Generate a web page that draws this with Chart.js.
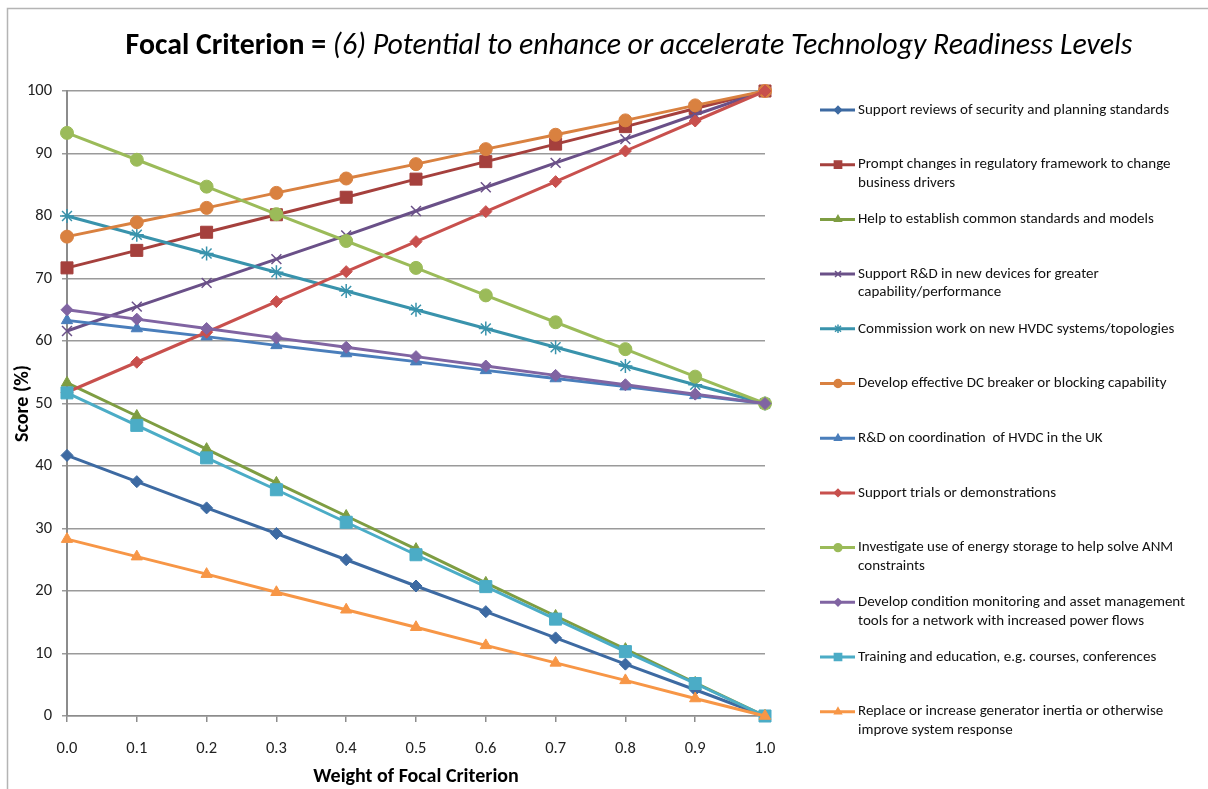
<!DOCTYPE html>
<html>
<head>
<meta charset="utf-8">
<script src="https://cdn.jsdelivr.net/npm/chart.js@4/dist/chart.umd.min.js"></script>
<style>
  html, body { margin: 0; background: #fff; }
  #wrap { width: 1208px; height: 789px; }
</style>
</head>
<body>
<div id="wrap"><canvas id="chart" width="1208" height="789"></canvas></div>
<script>
// DATA
const weights = ['0.0', '0.1', '0.2', '0.3', '0.4', '0.5', '0.6', '0.7', '0.8', '0.9', '1.0'];

const securityReviews   = [41.7, 37.5, 33.3, 29.2, 25.0, 20.8, 16.7, 12.5, 8.3, 4.2, 0];
const regulatoryChanges = [71.7, 74.5, 77.4, 80.2, 83.0, 85.9, 88.7, 91.5, 94.3, 97.2, 100];
const commonStandards   = [53.3, 48.0, 42.7, 37.3, 32.0, 26.7, 21.3, 16.0, 10.7, 5.3, 0];
const newDevices        = [61.6, 65.5, 69.3, 73.1, 76.9, 80.8, 84.6, 88.5, 92.3, 96.2, 100];
const hvdcTopologies    = [80.0, 77.0, 74.0, 71.0, 68.0, 65.0, 62.0, 59.0, 56.0, 53.0, 50];
const dcBreaker         = [76.7, 79.0, 81.3, 83.7, 86.0, 88.3, 90.7, 93.0, 95.3, 97.7, 100];
const hvdcCoordination  = [63.3, 62.0, 60.7, 59.3, 58.0, 56.7, 55.3, 54.0, 52.7, 51.3, 50];
const trialsDemos       = [51.8, 56.6, 61.4, 66.3, 71.1, 75.9, 80.7, 85.5, 90.4, 95.2, 100];
const energyStorage     = [93.3, 89.0, 84.7, 80.3, 76.0, 71.7, 67.3, 63.0, 58.7, 54.3, 50];
const conditionMonitor  = [65.0, 63.5, 62.0, 60.5, 59.0, 57.5, 56.0, 54.5, 53.0, 51.5, 50];
const trainingEdu       = [51.7, 46.5, 41.3, 36.2, 31.0, 25.8, 20.7, 15.5, 10.3, 5.2, 0];
const generatorInertia  = [28.3, 25.5, 22.7, 19.8, 17.0, 14.2, 11.3, 8.5, 5.7, 2.8, 0];

const seriesLabels = [
    ['Support reviews of security and planning standards'],
    ['Prompt changes in regulatory framework to change', 'business drivers'],
    ['Help to establish common standards and models'],
    ['Support R&D in new devices for greater', 'capability/performance'],
    ['Commission work on new HVDC systems/topologies'],
    ['Develop effective DC breaker or blocking capability'],
    ['R&D on coordination  of HVDC in the UK'],
    ['Support trials or demonstrations'],
    ['Investigate use of energy storage to help solve ANM', 'constraints'],
    ['Develop condition monitoring and asset management', 'tools for a network with increased power flows'],
    ['Training and education, e.g. courses, conferences'],
    ['Replace or increase generator inertia or otherwise', 'improve system response']
];
const seriesValues = [securityReviews, regulatoryChanges, commonStandards, newDevices, hvdcTopologies, dcBreaker,
    hvdcCoordination, trialsDemos, energyStorage, conditionMonitor, trainingEdu, generatorInertia];

// styles
const colors = ['#3D6AA2', '#A5403D', '#7E9D42', '#6A5088', '#3993AC', '#D98140',
                '#4A7EBB', '#C8504D', '#9BBB59', '#8064A2', '#4BACC6', '#F79646'];
const markers = ['rectRot', 'rect', 'triangle', 'crossRot', 'star', 'circle',
                 'triangle', 'rectRot', 'circle', 'rectRot', 'rect', 'triangle'];
const markerSize = { rectRot: 6, rect: 8.5, triangle: 6.5, crossRot: 7, star: 7, circle: 6.5 };

const FONT = 'Carlito, Lato, "Open Sans", sans-serif';

const datasets = seriesValues.map((vals, i) => ({
    label: seriesLabels[i].join(' '),
    data: vals,
    borderColor: colors[i],
    backgroundColor: colors[i],
    borderWidth: 3,
    pointStyle: markers[i],
    pointRadius: markerSize[markers[i]],
    pointBorderWidth: (markers[i] === 'crossRot' || markers[i] === 'star') ? 1.5 : 1,
    pointBorderColor: colors[i],
    pointBackgroundColor: colors[i],
    tension: 0,
    clip: false,
    order: seriesValues.length - i
}));

// frame, two-style title and wrapped legend
const decorPlugin = {
    id: 'decor',
    beforeDraw(chart) {
        const ctx = chart.ctx;
        ctx.save();
        ctx.strokeStyle = '#b4b4b4';
        ctx.lineWidth = 1.5;
        ctx.beginPath();
        ctx.moveTo(7.5, 800);
        ctx.lineTo(7.5, 8.5);
        ctx.lineTo(1220, 8.5);
        ctx.stroke();
        ctx.restore();
    },
    afterDraw(chart) {
        const ctx = chart.ctx;
        ctx.save();
        // title
        const boldPart = 'Focal Criterion = ';
        const italicPart = '(6) Potential to enhance or accelerate Technology Readiness Levels';
        const boldFont = 'bold 29.8px ' + FONT;
        const italicFont = 'italic 29.8px ' + FONT;
        ctx.font = boldFont;
        const w1 = ctx.measureText(boldPart).width;
        ctx.font = italicFont;
        const w2 = ctx.measureText(italicPart).width;
        let x = 629 - (w1 + w2) / 2;
        ctx.textBaseline = 'middle';
        ctx.fillStyle = '#000';
        ctx.font = boldFont;
        ctx.fillText(boldPart, x, 47);
        ctx.font = italicFont;
        ctx.fillText(italicPart, x + w1, 47);

        // legend
        ctx.font = '15px ' + FONT;
        chart.data.datasets.forEach((ds, i) => {
            const y = 110 + i * 54.7;
            ctx.strokeStyle = ds.borderColor;
            ctx.lineWidth = 3;
            ctx.beginPath();
            ctx.moveTo(820, y);
            ctx.lineTo(855, y);
            ctx.stroke();
            ctx.fillStyle = ds.borderColor;
            ctx.lineWidth = 1.5;
            Chart.helpers.drawPoint(ctx, {
                pointStyle: ds.pointStyle,
                radius: ds.pointRadius * 0.6,
                rotation: 0,
                borderWidth: 1.5
            }, 838, y);
            ctx.fillStyle = '#111';
            seriesLabels[i].forEach((line, k) => {
                ctx.fillText(line, 858, y + k * 18.5);
            });
        });
        ctx.restore();
    }
};

new Chart(document.getElementById('chart'), {
    type: 'line',
    data: { labels: weights, datasets: datasets },
    plugins: [decorPlugin],
    options: {
        responsive: false,
        animation: false,
        layout: { padding: { top: 91, right: 443, left: 0, bottom: 0 } },
        plugins: {
            legend: { display: false },
            title: { display: false },
            tooltip: { enabled: false }
        },
        scales: {
            x: {
                offset: false,
                grid: { display: true, drawOnChartArea: false, drawTicks: true, tickLength: 6, color: '#8c8c8c', lineWidth: 1.5 },
                border: { color: '#8c8c8c', width: 1.5 },
                ticks: { color: '#222', font: { family: FONT, size: 16.5 }, padding: 17, maxRotation: 0, autoSkip: false },
                title: {
                    display: true, text: 'Weight of Focal Criterion', color: '#000',
                    font: { family: FONT, size: 20, weight: 'bold' }, padding: { top: 0, bottom: 0 }
                },
                afterFit(scale) { scale.height = 73; }
            },
            y: {
                min: 0,
                max: 100,
                grid: { color: '#9a9a9a', lineWidth: 1.5, tickLength: 5 },
                border: { color: '#8c8c8c', width: 2 },
                ticks: { stepSize: 10, color: '#222', font: { family: FONT, size: 16.5 }, padding: 10 },
                title: {
                    display: true, text: 'Score (%)', color: '#000',
                    font: { family: FONT, size: 20, weight: 'bold' }, padding: { top: 11, bottom: 0 }
                },
                afterFit(scale) { scale.width = 67; }
            }
        }
    }
});
</script>
</body>
</html>
